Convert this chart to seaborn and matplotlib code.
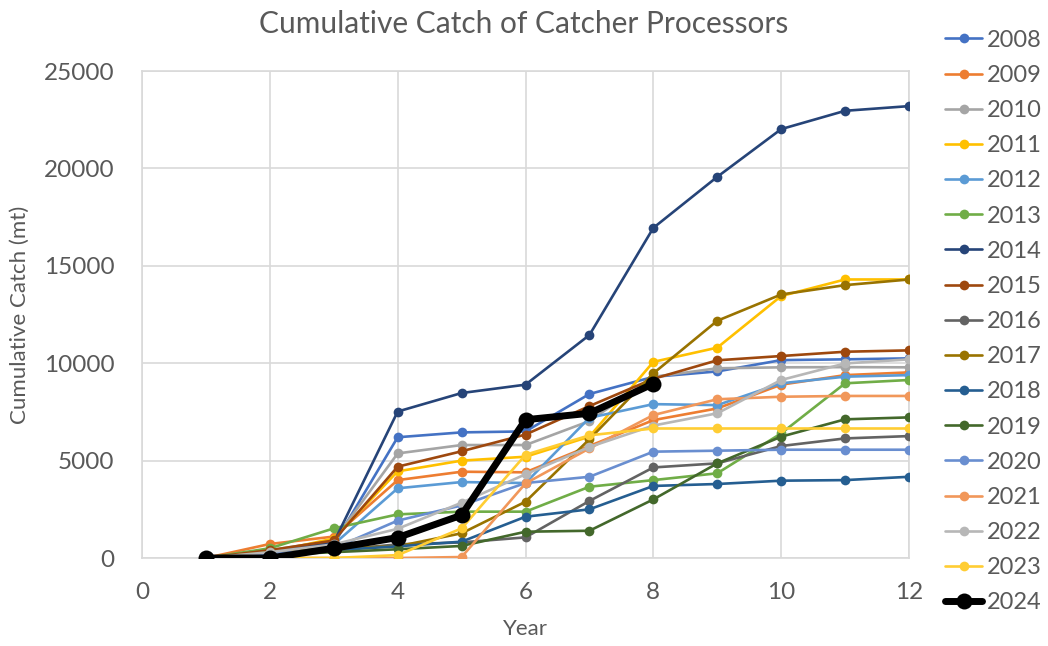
import matplotlib
matplotlib.use("Agg")
import matplotlib.pyplot as plt
import seaborn as sns
import pandas as pd

years = [1, 2, 3, 4, 5, 6, 7, 8, 9, 10, 11, 12]
series_names = ["2008", "2009", "2010", "2011", "2012", "2013", "2014", "2015",
                "2016", "2017", "2018", "2019", "2020", "2021", "2022", "2023", "2024"]

c2008 = [0, 300, 700, 6200, 6450, 6500, 8420, 9300, 9580, 10160, 10200, 10250]
c2009 = [0, 720, 1100, 4000, 4430, 4400, 5750, 7080, 7680, 8900, 9390, 9530]
c2010 = [0, 400, 900, 5370, 5800, 5800, 7030, 9300, 9740, 9790, 9800, 9790]
c2011 = [0, 300, 1000, 4450, 5000, 5200, 6230, 10070, 10800, 13450, 14300, 14300]
c2012 = [0, 300, 700, 3580, 3900, 3850, 7200, 7900, 7850, 8970, 9310, 9390]
c2013 = [0, 500, 1520, 2240, 2380, 2380, 3660, 4000, 4350, 6400, 8970, 9140]
c2014 = [0, 300, 800, 7520, 8470, 8900, 11450, 16950, 19570, 22020, 22960, 23200]
c2015 = [0, 400, 900, 4690, 5480, 6340, 7800, 9200, 10150, 10370, 10590, 10660]
c2016 = [0, 200, 400, 700, 800, 1060, 2930, 4650, 4860, 5750, 6140, 6260]
c2017 = [0, 300, 500, 600, 1270, 2890, 6100, 9480, 12180, 13530, 14010, 14300]
c2018 = [0, 200, 400, 600, 840, 2120, 2500, 3700, 3800, 3970, 4000, 4170]
c2019 = [0, 150, 300, 450, 620, 1350, 1400, 3010, 4860, 6230, 7120, 7220]
c2020 = [0, 200, 500, 1920, 2700, 3850, 4170, 5460, 5510, 5560, 5560, 5560]
c2021 = [0, 0, 0, 0, 50, 3830, 5630, 7340, 8150, 8280, 8320, 8320]
c2022 = [0, 300, 700, 1500, 2840, 4300, 5700, 6800, 7430, 9140, 9990, 10200]
c2023 = [0, 0, 0, 150, 1520, 5300, 6300, 6650, 6650, 6650, 6650, 6650]
c2024 = [0, 0, 500, 1050, 2200, 7100, 7430, 8950]

all_values = [c2008, c2009, c2010, c2011, c2012, c2013, c2014, c2015, c2016,
              c2017, c2018, c2019, c2020, c2021, c2022, c2023, c2024]

colors = ["#4472C4", "#ED7D31", "#A5A5A5", "#FFC000", "#5B9BD5", "#70AD47",
          "#264478", "#9E480E", "#636363", "#997300", "#255E91", "#43682B",
          "#698ED0", "#F1975A", "#B7B7B7", "#FFCD33", "#000000"]

rows = []
for name, vals in zip(series_names, all_values):
    for x, v in zip(years, vals):
        rows.append({"Year": x, "Catch": v, "Series": name})
df = pd.DataFrame(rows)

sns.set_theme(style="white")
plt.rcParams["font.family"] = ["Lato", "DejaVu Sans"]

fig = plt.figure(figsize=(10.48, 6.46), dpi=100)
ax = fig.add_axes([0.1355, 0.1362, 0.8674 - 0.1355, 0.890 - 0.1362])

for name, col in zip(series_names, colors):
    sub = df[df["Series"] == name]
    if name == "2024":
        lw, ms = 5.0, 11.5
    else:
        lw, ms = 1.9, 7
    sns.lineplot(data=sub, x="Year", y="Catch", ax=ax, color=col, marker="o",
                 linewidth=lw, markersize=ms, markeredgewidth=0, label=name,
                 zorder=5 if name == "2024" else 3)

ax.set_xlim(0, 12)
ax.set_ylim(0, 25000)
ax.set_xticks(range(0, 13, 2))
ax.set_yticks(range(0, 25001, 5000))
ax.grid(True, color="#D9D9D9", linewidth=1.2)
ax.set_axisbelow(True)
for s in ax.spines.values():
    s.set_color("#D9D9D9")
    s.set_linewidth(1.2)
ax.tick_params(axis="both", length=0, labelsize=17.5, colors="#595959")
ax.tick_params(axis="y", pad=20)
ax.tick_params(axis="x", pad=17)

ax.set_xlabel("Year", fontsize=16, color="#595959", labelpad=12)
ax.set_ylabel("Cumulative Catch (mt)", fontsize=16, color="#595959", labelpad=10)
fig.suptitle("Cumulative Catch of Catcher Processors", fontsize=21.5, color="#595959",
             x=0.50, y=0.985)

handles, labels = ax.get_legend_handles_labels()
if ax.legend_:
    ax.legend_.remove()
fig.legend(handles, labels, loc="upper left", bbox_to_anchor=(0.902, 0.954),
           frameon=False, fontsize=17, labelcolor="#595959", handlelength=1.55,
           handletextpad=0.2, labelspacing=0.6, borderaxespad=0, borderpad=0)

fig.savefig("out.png", dpi=100)
